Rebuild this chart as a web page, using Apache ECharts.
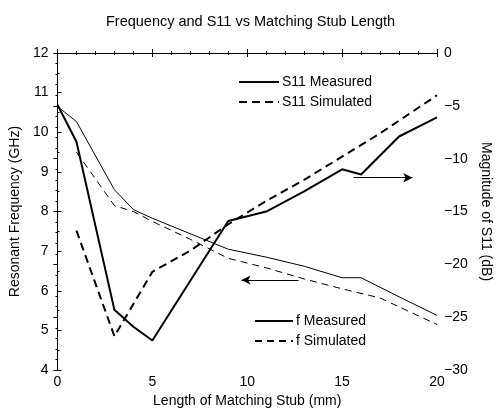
<!DOCTYPE html>
<html lang="en">
<head>
    <meta charset="utf-8">
    <title>Frequency and S11 vs Matching Stub Length</title>
    <script src="https://cdn.jsdelivr.net/npm/echarts@6/dist/echarts.min.js"></script>
    <style>
        html, body, #main {
            width: 100%;
            height: 100%;
            margin: 0;
            padding: 0;
            overflow: hidden;
            background-color: #ffffff;
        }
    </style>
</head>
<body>
    <div id="main"></div>
    <script>
        // 数据
        var fMeasX = [0, 1, 3, 4, 5, 9, 11, 13, 15, 16, 18, 20];
        var fMeasY = [10.65, 10.27, 8.55, 8.05, 7.83, 7.05, 6.85, 6.62, 6.33, 6.33, 5.85, 5.38];

        var fSimX = [1, 3, 4, 5, 7, 9, 11, 13, 15, 17, 20];
        var fSimY = [9.5, 8.15, 8.0, 7.75, 7.3, 6.82, 6.58, 6.3, 6.05, 5.82, 5.15];

        var s11MeasX = [0, 1, 3, 4, 5, 9, 11, 13, 15, 16, 18, 20];
        var s11MeasY = [-4.9, -8.4, -24.3, -25.9, -27.2, -15.9, -15.0, -13.1, -11.0, -11.5, -7.9, -6.1];

        var s11SimX = [1, 3, 5, 7, 9, 11, 13, 15, 17, 20];
        var s11SimY = [-16.8, -26.8, -20.7, -18.7, -16.2, -14.0, -12.0, -9.8, -7.6, -4.0];

        var xTicks = [0, 5, 10, 15, 20];

        function pairs(xs, ys) {
            var out = [];
            for (var i = 0; i < xs.length; i++) {
                out.push([xs[i], ys[i]]);
            }
            return out;
        }

        var font = 'Liberation Sans';
        var myChart = echarts.init(document.getElementById('main'));

        var option = {
            backgroundColor: '#ffffff',
            animation: false,
            title: {
                text: 'Frequency and S11 vs Matching Stub Length',
                left: 'center',
                top: 9,
                textStyle: { fontFamily: font, fontSize: 14.5, fontWeight: 'normal', color: '#000' }
            },
            legend: [
                {
                    data: ['S11 Measured', 'S11 Simulated'],
                    orient: 'vertical',
                    left: 233,
                    top: 70,
                    itemWidth: 40,
                    itemHeight: 12,
                    itemGap: 6,
                    itemStyle: { opacity: 0 },
                    textStyle: { fontFamily: font, fontSize: 14, color: '#000', padding: [0, 0, 0, -2] }
                },
                {
                    data: ['f Measured', 'f Simulated'],
                    orient: 'vertical',
                    left: 249,
                    top: 309,
                    itemWidth: 38,
                    itemHeight: 12,
                    itemGap: 6,
                    itemStyle: { opacity: 0 },
                    textStyle: { fontFamily: font, fontSize: 14, color: '#000', padding: [0, 0, 0, -2] }
                }
            ],
            grid: { left: 57, right: 57, top: 53, bottom: 41 },
            xAxis: [
                {
                    type: 'value',
                    min: 0, max: 20, interval: 5,
                    name: 'Length of Matching Stub (mm)',
                    nameLocation: 'middle',
                    nameGap: 22,
                    nameTextStyle: { fontFamily: font, fontSize: 14, color: '#000' },
                    axisLine: { lineStyle: { color: '#000', width: 1 } },
                    axisTick: { inside: true, length: 4, lineStyle: { color: '#000' } },
                    minorTick: { show: true, splitNumber: 5, length: 2, lineStyle: { color: '#000' } },
                    axisLabel: {
                        fontFamily: font, fontSize: 14, color: '#000', margin: 5,
                        formatter: function (v) { return xTicks.indexOf(v) >= 0 ? String(v) : ''; }
                    },
                    splitLine: { show: false }
                },
                {
                    type: 'value',
                    position: 'top',
                    min: 0, max: 20, interval: 5,
                    axisLine: { lineStyle: { color: '#000', width: 1 } },
                    axisTick: { inside: true, length: 4, lineStyle: { color: '#000' } },
                    minorTick: { show: true, splitNumber: 5, length: 2, lineStyle: { color: '#000' } },
                    axisLabel: { show: false },
                    splitLine: { show: false }
                }
            ],
            yAxis: [
                {
                    type: 'value',
                    min: 4, max: 12, interval: 1,
                    name: 'Resonant Frequency (GHz)',
                    nameLocation: 'middle',
                    nameGap: 34,
                    nameTextStyle: { fontFamily: font, fontSize: 14, color: '#000' },
                    axisLine: { show: true, lineStyle: { color: '#000', width: 1 } },
                    axisTick: { show: true, inside: true, length: 4, lineStyle: { color: '#000' } },
                    minorTick: { show: true, splitNumber: 2, length: 2, lineStyle: { color: '#000' } },
                    axisLabel: { fontFamily: font, fontSize: 14, color: '#000', margin: 9 },
                    splitLine: { show: false }
                },
                {
                    type: 'value',
                    position: 'right',
                    min: -30, max: 0, interval: 5,
                    name: 'Magnitude of S11 (dB)',
                    nameLocation: 'middle',
                    nameRotate: -90,
                    nameGap: 42,
                    nameTextStyle: { fontFamily: font, fontSize: 14, color: '#000' },
                    axisLine: { show: true, lineStyle: { color: '#000', width: 1 } },
                    axisTick: { show: true, inside: true, length: 4, lineStyle: { color: '#000' } },
                    minorTick: { show: true, splitNumber: 5, length: 2, lineStyle: { color: '#000' } },
                    axisLabel: {
                        fontFamily: font, fontSize: 14, color: '#000', margin: 7,
                        formatter: function (v) { return v < 0 ? '\u2212' + Math.abs(v) : String(v); }
                    },
                    splitLine: { show: false }
                }
            ],
            series: [
                {
                    name: 'S11 Measured',
                    type: 'line',
                    yAxisIndex: 1,
                    symbol: 'none',
                    color: '#000',
                    lineStyle: { color: '#000', width: 2 },
                    data: pairs(s11MeasX, s11MeasY),
                    markLine: {
                        silent: true,
                        symbol: ['none', 'arrow'],
                        symbolSize: [7, 9],
                        label: { show: false },
                        lineStyle: { color: '#000', width: 1, type: 'solid' },
                        data: [[{ coord: [15.6, -11.8] }, { coord: [18.7, -11.8] }]]
                    }
                },
                {
                    name: 'S11 Simulated',
                    type: 'line',
                    yAxisIndex: 1,
                    symbol: 'none',
                    color: '#000',
                    lineStyle: { color: '#000', width: 2, type: [8, 5] },
                    data: pairs(s11SimX, s11SimY)
                },
                {
                    name: 'f Measured',
                    type: 'line',
                    yAxisIndex: 0,
                    symbol: 'none',
                    color: '#000',
                    lineStyle: { color: '#000', width: 1 },
                    data: pairs(fMeasX, fMeasY),
                    markLine: {
                        silent: true,
                        symbol: ['none', 'arrow'],
                        symbolSize: [7, 9],
                        label: { show: false },
                        lineStyle: { color: '#000', width: 1, type: 'solid' },
                        data: [[{ coord: [12.7, 6.27] }, { coord: [9.7, 6.27] }]]
                    }
                },
                {
                    name: 'f Simulated',
                    type: 'line',
                    yAxisIndex: 0,
                    symbol: 'none',
                    color: '#000',
                    lineStyle: { color: '#000', width: 1, type: [7, 5] },
                    data: pairs(fSimX, fSimY)
                }
            ]
        };
        myChart.setOption(option);
    </script>
</body>
</html>
